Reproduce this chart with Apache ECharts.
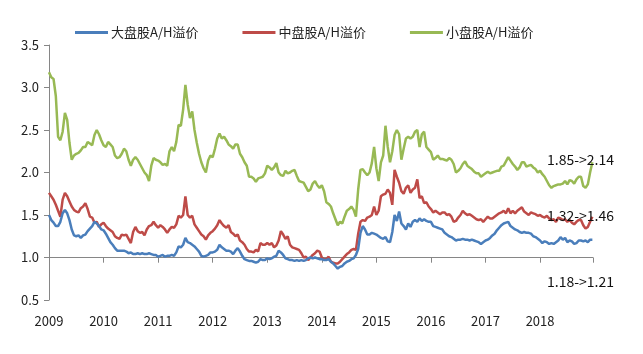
<html>
<head>
  <meta charset="utf-8" />
  <script src="https://cdn.jsdelivr.net/npm/echarts@6/dist/echarts.min.js"></script>
  <style>
    html, body { margin: 0; padding: 0; background: #fff; }
    #chart { width: 643px; height: 354px; }
  </style>
</head>
<body>
  <div id="chart"></div>
  <script>
    // semi-monthly readings, Jan 2009 .. Dec 2018 (two points a month)
    var seriesNames = ['大盘股A/H溢价', '中盘股A/H溢价', '小盘股A/H溢价'];
    var yearTicks = [2009, 2010, 2011, 2012, 2013, 2014, 2015, 2016, 2017, 2018];
    var notes = ['1.85->2.14', '1.32->1.46', '1.18->1.21'];

    var largeCap = [
      1.5,1.44,1.41,1.37,1.37,1.42,1.52,1.56,1.52,1.44,1.33,1.26,1.25,1.26,1.23,1.26,1.27,1.31,1.34,1.37,1.42,1.4,1.37,1.33,1.32,1.28,1.23,1.18,1.15,1.11,1.08,1.08,1.08,1.08,1.07,1.05,1.06,1.04,1.04,1.05,1.04,
      1.05,1.04,1.04,1.05,1.04,1.03,1.03,1.01,1.02,1.03,1.01,1.02,1.02,1.03,1.02,1.06,1.13,1.12,1.15,1.23,1.18,1.17,1.15,1.13,1.1,1.07,1.02,1.01,1.02,1.03,1.06,1.06,1.07,1.09,1.15,1.12,1.1,1.08,1.08,
      1.07,1.04,1.08,1.11,1.07,1.02,0.98,0.97,0.96,0.96,0.95,0.94,0.95,0.98,0.97,0.97,0.99,0.98,0.99,1.01,1.02,1.08,1.06,1.03,0.99,0.98,0.97,0.97,0.96,0.97,0.96,0.97,0.96,0.97,0.99,1.0,0.99,1.0,0.99,0.98,
      0.98,0.97,0.97,0.98,0.95,0.93,0.9,0.87,0.89,0.9,0.93,0.95,0.96,0.98,0.99,1.03,1.1,1.29,1.37,1.33,1.27,1.27,1.29,1.28,1.27,1.25,1.23,1.22,1.24,1.19,1.18,1.3,1.5,1.43,1.54,1.4,1.37,1.33,1.4,
      1.36,1.42,1.44,1.42,1.46,1.43,1.45,1.43,1.42,1.42,1.37,1.36,1.35,1.34,1.33,1.29,1.27,1.25,1.24,1.22,1.2,1.21,1.21,1.22,1.21,1.21,1.2,1.21,1.2,1.19,1.18,1.16,1.18,1.2,1.21,1.23,1.26,1.28,1.32,1.35,
      1.38,1.4,1.41,1.42,1.37,1.35,1.33,1.32,1.3,1.29,1.3,1.29,1.29,1.28,1.25,1.24,1.22,1.2,1.17,1.19,1.18,1.16,1.17,1.16,1.18,1.2,1.24,1.21,1.23,1.18,1.2,1.19,1.16,1.17,1.2,1.2,1.19,1.2,1.18,1.21,1.21
    ];
    var midCap = [
      1.76,1.72,1.68,1.62,1.55,1.48,1.68,1.76,1.72,1.66,1.6,1.56,1.54,1.53,1.58,1.6,1.64,1.57,1.48,1.47,1.41,1.42,1.36,1.39,1.41,1.37,1.34,1.32,1.3,1.25,1.23,1.22,1.27,1.26,1.27,1.22,1.17,1.3,1.36,1.31,1.29,
      1.3,1.26,1.33,1.37,1.38,1.42,1.38,1.35,1.38,1.36,1.33,1.29,1.33,1.36,1.35,1.39,1.49,1.47,1.5,1.72,1.5,1.47,1.49,1.39,1.35,1.31,1.27,1.25,1.21,1.26,1.29,1.31,1.34,1.38,1.44,1.4,1.37,1.35,1.38,
      1.3,1.28,1.25,1.27,1.2,1.18,1.15,1.1,1.07,1.07,1.06,1.09,1.07,1.17,1.15,1.15,1.17,1.15,1.17,1.12,1.14,1.2,1.31,1.27,1.22,1.25,1.15,1.12,1.11,1.1,1.09,1.05,1.0,1.01,0.97,1.0,1.03,1.05,1.08,1.07,
      1.0,0.98,0.98,1.01,0.95,0.94,0.93,0.93,0.95,0.98,1.01,1.04,1.06,1.09,1.1,1.09,1.28,1.42,1.44,1.43,1.47,1.48,1.5,1.6,1.5,1.55,1.72,1.74,1.75,1.8,1.76,1.62,2.03,1.95,1.88,1.78,1.75,1.82,1.85,
      1.76,1.8,1.82,1.92,1.7,1.72,1.64,1.65,1.6,1.57,1.53,1.55,1.53,1.51,1.53,1.53,1.5,1.51,1.48,1.42,1.43,1.47,1.5,1.55,1.52,1.5,1.51,1.49,1.47,1.45,1.44,1.45,1.42,1.45,1.48,1.46,1.46,1.48,1.5,1.52,
      1.53,1.55,1.52,1.58,1.52,1.55,1.52,1.55,1.57,1.59,1.54,1.52,1.5,1.53,1.52,1.51,1.49,1.5,1.48,1.47,1.49,1.46,1.44,1.45,1.42,1.47,1.46,1.44,1.45,1.42,1.44,1.41,1.39,1.42,1.44,1.44,1.38,1.34,1.36,1.42,1.48
    ];
    var smallCap = [
      3.18,3.12,3.1,2.9,2.42,2.38,2.48,2.7,2.62,2.35,2.15,2.2,2.22,2.23,2.26,2.3,2.3,2.36,2.34,2.32,2.44,2.5,2.45,2.38,2.32,2.3,2.36,2.33,2.3,2.2,2.17,2.18,2.22,2.28,2.25,2.15,
      2.08,2.15,2.18,2.15,2.1,2.05,2.0,1.97,1.9,2.08,2.17,2.15,2.14,2.12,2.09,2.1,2.08,2.25,2.3,2.25,2.36,2.56,2.55,2.74,3.03,2.8,2.64,2.72,2.5,2.35,2.22,2.12,2.05,2.0,2.14,2.2,2.18,2.28,2.4,2.46,2.4,2.42,2.38,2.33,
      2.31,2.28,2.33,2.33,2.22,2.18,2.12,2.08,1.95,1.95,1.93,1.89,1.93,1.94,1.95,1.99,2.08,2.06,2.03,2.06,2.11,2.0,1.97,1.96,2.02,1.99,2.0,2.02,2.03,1.96,1.9,1.89,1.88,1.83,1.78,1.8,1.87,1.9,1.85,1.82,
      1.85,1.78,1.65,1.63,1.6,1.52,1.45,1.38,1.42,1.4,1.48,1.55,1.57,1.6,1.56,1.48,1.8,2.03,2.04,2.0,1.97,2.0,2.11,2.3,2.05,1.9,2.12,2.2,2.55,2.3,2.12,2.25,2.44,2.5,2.45,2.15,2.28,2.4,2.42,
      2.4,2.42,2.48,2.5,2.3,2.45,2.48,2.3,2.27,2.24,2.15,2.17,2.2,2.16,2.16,2.15,2.14,2.17,2.15,2.1,2.0,2.02,2.05,2.1,2.13,2.08,2.06,2.04,2.01,1.99,1.99,1.95,1.97,1.99,2.01,1.99,2.0,2.01,2.02,2.02,
      2.07,2.08,2.13,2.18,2.14,2.1,2.07,2.03,2.06,2.12,2.12,2.07,2.08,2.09,2.06,2.04,2.0,2.02,1.98,1.95,1.9,1.85,1.82,1.84,1.85,1.86,1.86,1.87,1.9,1.86,1.91,1.9,1.87,1.92,1.95,1.95,1.84,1.82,1.86,2.0,2.12
    ];
  </script>
  <script>
    var myChart = echarts.init(document.getElementById('chart'), null, { renderer: 'canvas' });

    var toPairs = function (arr) {
      return arr.map(function (v, k) { return [2009 + k / 24, v]; });
    };
    var xMin = yearTicks[0], xMax = 2018.97;
    var font = 'Noto Sans CJK SC';
    var axisGray = '#868686';

    var yearFmt = function (v) {
      var r = Math.round(v);
      return (Math.abs(v - r) < 1e-6 && yearTicks.indexOf(r) >= 0) ? String(r) : '';
    };

    var option = {
      animation: false,
      backgroundColor: '#fff',
      textStyle: { fontFamily: font },
      legend: {
        data: seriesNames,
        left: 70, top: 21,
        icon: 'rect', itemWidth: 33, itemHeight: 3, itemGap: 44,
        textStyle: { fontSize: 13, color: '#222', fontFamily: font, padding: [0, 0, 0, -2] }
      },
      grid: [
        { left: 49, right: 50, top: 45, bottom: 54 },
        // helper grid whose bottom edge sits on y = 1.0, for the crossing axis line
        { left: 49, right: 50, top: 45, bottom: 96.3 }
      ],
      xAxis: [
        {
          type: 'value', gridIndex: 0, min: xMin, max: xMax, interval: 1,
          axisLine: { show: false }, axisTick: { show: false }, splitLine: { show: false },
          axisLabel: { margin: 15, fontSize: 13, color: '#222', formatter: yearFmt, showMaxLabel: false }
        },
        {
          type: 'value', gridIndex: 1, min: xMin, max: xMax, interval: 1,
          axisLine: { show: true, lineStyle: { color: axisGray, width: 1 } },
          axisTick: { show: true, length: 5, lineStyle: { color: axisGray } },
          axisLabel: { show: false }, splitLine: { show: false }
        }
      ],
      yAxis: [
        {
          type: 'value', gridIndex: 0, min: 0.5, max: 3.5, interval: 0.5,
          axisLine: { show: true, lineStyle: { color: axisGray, width: 1 } },
          axisTick: { show: true, length: 5, lineStyle: { color: axisGray } },
          splitLine: { show: false },
          axisLabel: { margin: 10, fontSize: 13, color: '#222', formatter: function (v) { return v.toFixed(1); } }
        },
        { type: 'value', gridIndex: 1, min: 0, max: 1, show: false }
      ],
      series: [
        { name: seriesNames[0], type: 'line', data: toPairs(largeCap), showSymbol: false, symbol: 'none',
          lineStyle: { color: '#4a7ebb', width: 2.5 }, itemStyle: { color: '#4a7ebb' }, z: 4 },
        { name: seriesNames[1], type: 'line', data: toPairs(midCap), showSymbol: false, symbol: 'none',
          lineStyle: { color: '#be4b48', width: 2.5 }, itemStyle: { color: '#be4b48' }, z: 3 },
        { name: seriesNames[2], type: 'line', data: toPairs(smallCap), showSymbol: false, symbol: 'none',
          lineStyle: { color: '#98b954', width: 2.5 }, itemStyle: { color: '#98b954' }, z: 2 },
        { type: 'line', xAxisIndex: 1, yAxisIndex: 1, data: [], silent: true }
      ],
      graphic: [
        { type: 'text', left: 547, top: 153, z: 100, style: { text: notes[0], fill: '#111', font: '14px ' + font } },
        { type: 'text', left: 547, top: 209, z: 100, style: { text: notes[1], fill: '#111', font: '14px ' + font } },
        { type: 'text', left: 547, top: 275, z: 100, style: { text: notes[2], fill: '#111', font: '14px ' + font } }
      ]
    };
    myChart.setOption(option);
  </script>
</body>
</html>
